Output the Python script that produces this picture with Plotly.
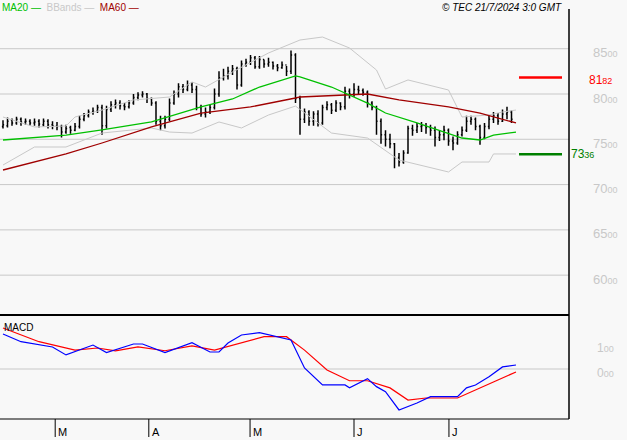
import plotly.graph_objects as go

opens = [7640,7650,7710,7680,7720,7690,7700,
7680,7700,7660,7700,7660,7650,7640,
7580,7630,7600,
7640,7720,7760,7800,7810,
7850,7650,7830,7880,7900,7870,7860,
7900,7960,7990,8000,7950,
7900,7700,7650,
7720,7900,8000,8080,8050,8100,
8050,7850,7780,7800,
7850,8000,8180,8200,
8250,8280,8100,
8330,8350,8400,8300,8380,8330,8350,8310,8290,8320,
8250,8430,
7950,7720,7800,7700,7780,
7680,7850,7880,7820,7900,
7860,8030,8000,8050,8040,
8020,7900,7850,
7700,7550,7500,
7450,7300,7250,
7350,7620,7600,7640,7650,7630,
7600,7520,7550,7600,7480,7460,7550,
7600,7700,7720,7640,
7520,7640,7720,7760,7700,7780,7800]
highs = [7710,7740,7730,7750,7740,7730,7720,
7730,7720,7730,7720,7700,7690,7660,
7660,7650,7680,
7760,7790,7830,7850,7880,
7880,7870,7920,7940,7930,7900,7930,
8000,8020,8030,8010,7960,
7920,7760,7760,
7950,8040,8120,8110,8150,8130,
8090,7880,7850,7880,
8060,8250,8280,8300,
8320,8300,8370,
8390,8430,8420,8420,8380,8400,8360,8330,8360,8310,
8480,8450,
7980,7840,7820,7810,7820,
7880,7920,7900,7930,7910,
8080,8060,8120,8090,8060,
8040,7920,7870,
7730,7600,7560,
7460,7350,7380,
7650,7660,7680,7690,7680,7660,
7640,7600,7650,7620,7530,7590,7640,
7760,7760,7740,7660,
7680,7760,7800,7790,7830,7860,7820]
lows = [7620,7630,7650,7660,7650,7660,7650,
7650,7630,7640,7620,7610,7600,7520,
7560,7560,7590,
7620,7700,7740,7770,7790,
7550,7620,7800,7840,7830,7820,7840,
7880,7930,7960,7900,7870,
7660,7600,7620,
7700,7880,7960,8010,8030,8010,
7820,7750,7740,7780,
7830,7970,8150,8160,
8210,8050,8080,
8300,8320,8280,8280,8290,8300,8270,8250,8280,8200,
8220,7900,
7550,7680,7650,7650,7640,
7660,7820,7780,7800,7820,
7830,7950,7970,7990,7980,
7850,7820,7550,
7450,7420,7400,
7180,7200,7230,
7340,7540,7570,7580,7560,7540,
7420,7480,7490,7430,7380,7440,7530,
7580,7660,7600,7440,
7500,7610,7680,7660,7690,7720,7680]
closes = [7660,7700,7680,7720,7690,7700,7680,
7690,7670,7700,7660,7650,7640,7580,
7620,7600,7640,
7720,7760,7800,7810,7850,
7650,7830,7880,7900,7870,7860,7900,
7960,7990,8000,7950,7900,
7700,7650,7720,
7900,8000,8080,8050,8100,8050,
7850,7780,7800,7850,
8000,8180,8200,8250,
8280,8100,8330,
8350,8400,8300,8380,8330,8350,8310,8290,8320,8250,
8430,7950,
7720,7800,7700,7780,7680,
7850,7880,7820,7900,7860,
8030,8000,8050,8040,8020,
7900,7850,7700,
7550,7500,7450,
7300,7250,7350,
7620,7600,7640,7650,7630,7600,
7520,7550,7600,7480,7460,7550,7600,
7700,7720,7640,7520,
7640,7720,7760,7700,7780,7800,7720]

ma20_x = [0, 14, 22, 33, 44, 51, 57, 63, 65, 66, 73, 81, 85, 92, 99, 102, 106, 109, 114]
ma20_y = [7492, 7547, 7603, 7691, 7857, 7945, 8077, 8166, 8199, 8188, 8077, 7900, 7790, 7680, 7569, 7514, 7492, 7547, 7580]
ma60_x = [0, 14, 22, 33, 44, 55, 65, 66, 81, 88, 99, 106, 114]
ma60_y = [7161, 7338, 7459, 7636, 7790, 7857, 7956, 7967, 8000, 7934, 7857, 7790, 7680]
bbu_x = [0, 7, 14, 16, 22, 29, 37, 42, 45, 51, 59, 66, 71, 77, 83, 85, 90, 99, 102, 108, 111, 114]
bbu_y = [7746, 7636, 7647, 7746, 7823, 7934, 7967, 8133, 8077, 8243, 8453, 8596, 8629, 8508, 8265, 8055, 8155, 8044, 7746, 7768, 7801, 7823]
bbl_x = [0, 7, 14, 22, 33, 37, 42, 48, 53, 59, 65, 73, 81, 88, 99, 102, 108, 109, 114]
bbl_y = [7216, 7415, 7415, 7569, 7625, 7580, 7569, 7691, 7625, 7768, 7867, 7569, 7514, 7271, 7139, 7249, 7249, 7338, 7338]

macd_x = [0, 4, 11, 14, 20, 23, 29, 31, 36, 42, 46, 48, 50, 53, 57, 60, 64, 67, 71, 76, 77, 81, 83, 85, 88, 92, 95, 101, 103, 105, 108, 111, 114]
macd_y = [1.67, 1.30, 1.05, 0.67, 1.14, 0.78, 1.19, 1.19, 0.78, 1.25, 0.81, 0.81, 1.24, 1.62, 1.73, 1.57, 1.38, 0.05, -0.76, -0.76, -0.89, -0.46, -0.84, -1.08, -1.95, -1.62, -1.32, -1.32, -0.90, -0.76, -0.37, 0.10, 0.19]
sig_x = [0, 8, 16, 21, 25, 30, 36, 42, 47, 53, 58, 63, 67, 72, 77, 81, 86, 90, 94, 101, 106, 114]
sig_y = [1.95, 1.30, 0.90, 1.00, 0.86, 1.05, 0.87, 1.10, 0.90, 1.24, 1.54, 1.54, 0.90, -0.05, -0.56, -0.56, -0.90, -1.48, -1.38, -1.38, -0.90, -0.14]

price_ticks = [8500, 8000, 7500, 7000, 6500, 6000]
month_pos = [11.6, 32.4, 54.9, 78.0, 99.1]
month_lbl = ["M", "A", "M", "J", "J"]
hi_level, lo_level = 8182, 7336

W, H = 627, 440
xr = [(0 - 3) / 4.5, (569 - 3) / 4.5]
ytop, ybot = 8000 + 94 * 11.04, 8000 - 221 * 11.04
m_top, m_bot = (369 - 316) / 21, (369 - 419) / 21

fig = go.Figure()
fig.add_trace(go.Ohlc(x=list(range(len(closes))), open=opens, high=highs, low=lows, close=closes,
    increasing_line_color="black", decreasing_line_color="black", line_width=1.5, tickwidth=0.25,
    xaxis="x", yaxis="y"))
fig.add_trace(go.Scatter(x=bbu_x, y=bbu_y, mode="lines", line=dict(color="#c8c8c8", width=1), xaxis="x", yaxis="y"))
fig.add_trace(go.Scatter(x=bbl_x, y=bbl_y, mode="lines", line=dict(color="#c8c8c8", width=1), xaxis="x", yaxis="y"))
fig.add_trace(go.Scatter(x=ma60_x, y=ma60_y, mode="lines", line=dict(color="#a00000", width=1.3), xaxis="x", yaxis="y"))
fig.add_trace(go.Scatter(x=ma20_x, y=ma20_y, mode="lines", line=dict(color="#00c000", width=1.3), xaxis="x", yaxis="y"))
fig.add_trace(go.Scatter(x=sig_x, y=sig_y, mode="lines", line=dict(color="#ff0000", width=1.2), xaxis="x2", yaxis="y2"))
fig.add_trace(go.Scatter(x=macd_x, y=macd_y, mode="lines", line=dict(color="#0000ff", width=1.2), xaxis="x2", yaxis="y2"))

shapes = []
for v in price_ticks:
    shapes.append(dict(type="line", xref="x", yref="y", x0=xr[0], x1=xr[1], y0=v, y1=v, line=dict(color="#c8c8c8", width=1), layer="below"))
shapes.append(dict(type="line", xref="x2", yref="y2", x0=xr[0], x1=xr[1], y0=0, y1=0, line=dict(color="#c8c8c8", width=1), layer="below"))
shapes.append(dict(type="line", xref="paper", yref="y", x0=519/W, x1=562/W, y0=hi_level, y1=hi_level, line=dict(color="#ff0000", width=2.5)))
shapes.append(dict(type="line", xref="paper", yref="y", x0=519/W, x1=562/W, y0=lo_level, y1=lo_level, line=dict(color="#008000", width=2.5)))
shapes.append(dict(type="line", xref="paper", yref="paper", x0=569/W, x1=569/W, y0=1-9/H, y1=1-419/H, line=dict(color="black", width=1.5)))
shapes.append(dict(type="line", xref="paper", yref="paper", x0=0, x1=569/W, y0=1-315/H, y1=1-315/H, line=dict(color="black", width=2)))
shapes.append(dict(type="line", xref="paper", yref="paper", x0=0, x1=569/W, y0=1-419/H, y1=1-419/H, line=dict(color="black", width=1)))
for p in month_pos:
    shapes.append(dict(type="line", xref="x2", yref="paper", x0=p, x1=p, y0=1-419/H, y1=1-437/H, line=dict(color="black", width=1)))

ann = []
for v in price_ticks:
    ann.append(dict(xref="paper", yref="y", x=605/W, y=v, yshift=-4, xanchor="center", yanchor="middle", showarrow=False,
        text=f"{str(v)[:2]}<span style='font-size:9px'>{str(v)[2:]}</span>", font=dict(size=13, color="#c8c8c8")))
ann.append(dict(xref="paper", yref="y", x=600/W, y=hi_level, yshift=-2, xanchor="center", showarrow=False,
    text="81<span style='font-size:9px'>82</span>", font=dict(size=12, color="#ff0000")))
ann.append(dict(xref="paper", yref="y", x=582/W, y=lo_level, xanchor="center", showarrow=False,
    text="73<span style='font-size:9px'>36</span>", font=dict(size=12, color="#008000")))
ann.append(dict(xref="paper", yref="y2", x=605/W, y=1.0, xanchor="center", showarrow=False,
    text="1<span style='font-size:9px'>00</span>", font=dict(size=12, color="#c8c8c8")))
ann.append(dict(xref="paper", yref="y2", x=605/W, y=-0.2, xanchor="center", showarrow=False,
    text="0<span style='font-size:9px'>00</span>", font=dict(size=12, color="#c8c8c8")))
for p, t in zip(month_pos, month_lbl):
    ann.append(dict(xref="x2", yref="paper", x=p, y=1-432/H, xanchor="left", yanchor="middle", showarrow=False, xshift=1,
        text=t, font=dict(size=11, color="black")))
ann.append(dict(xref="paper", yref="paper", x=0, y=1, xanchor="left", yanchor="top", showarrow=False,
    text="<span style='color:#00c000'>MA20 —</span>  <span style='color:#c8c8c8'>BBands —</span>  <span style='color:#a00000'>MA60 —</span>",
    font=dict(size=10)))
ann.append(dict(xref="paper", yref="paper", x=502/W, y=1, xanchor="center", yanchor="top", showarrow=False,
    text="<i>© TEC 21/7/2024 3:0 GMT</i>", font=dict(size=10, color="black")))
ann.append(dict(xref="paper", yref="paper", x=2/W, y=1-327/H, xanchor="left", yanchor="middle", showarrow=False,
    text="MACD", font=dict(size=10, color="black")))

fig.update_layout(
    width=W, height=H, margin=dict(l=0, r=0, t=0, b=0), showlegend=False,
    paper_bgcolor="#f8f8f8", plot_bgcolor="#f8f8f8",
    font=dict(family="Liberation Sans, Arial, sans-serif"),
    xaxis=dict(domain=[0, 569/W], range=xr, visible=False, rangeslider=dict(visible=False), anchor="y"),
    yaxis=dict(domain=[1-315/H, 1], range=[ybot, ytop], visible=False),
    xaxis2=dict(domain=[0, 569/W], range=xr, visible=False, anchor="y2"),
    yaxis2=dict(domain=[1-419/H, 1-316/H], range=[m_bot, m_top], visible=False),
    shapes=shapes, annotations=ann,
)
fig.write_html("out.html", config={"displayModeBar": False, "staticPlot": True},
               post_script="document.body.style.margin='0';document.body.style.background='#f8f8f8';")
